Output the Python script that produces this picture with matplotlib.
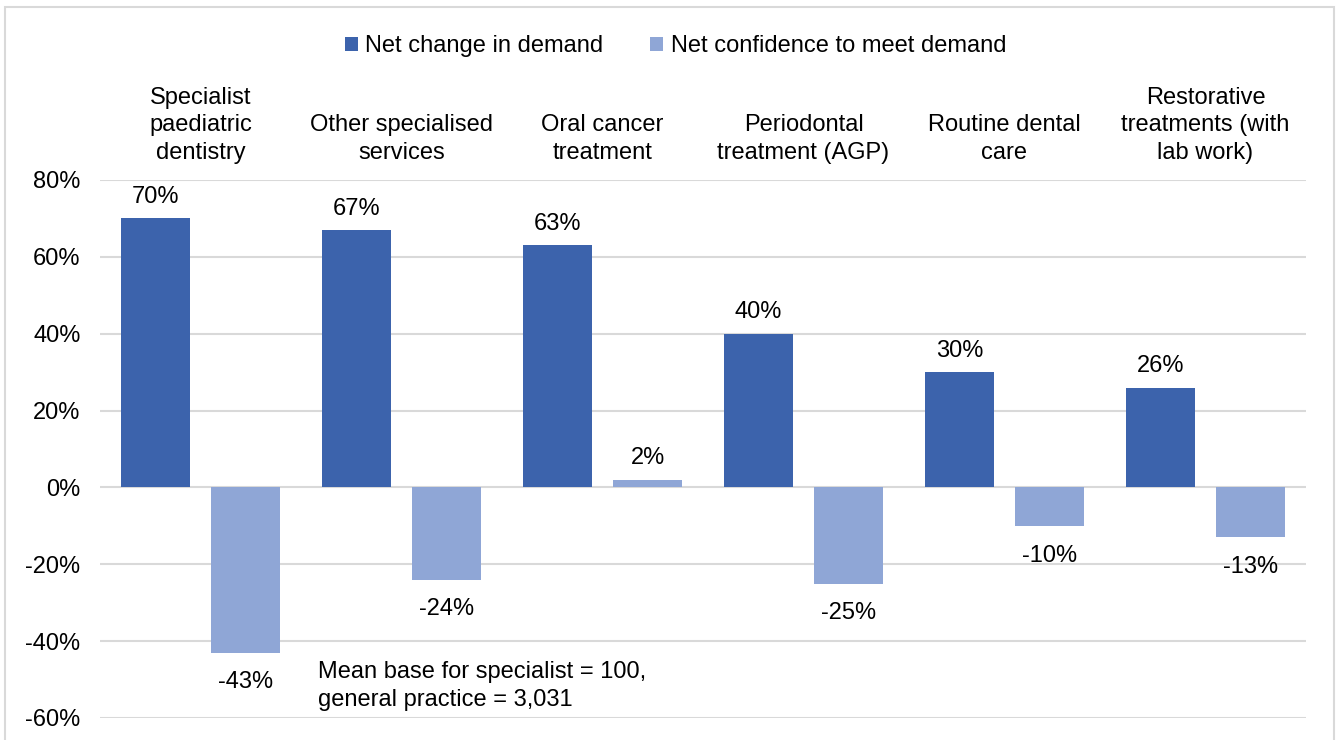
import numpy as np
import matplotlib.pyplot as plt
from matplotlib.patches import Rectangle

# chart data
categories = ['Specialist\npaediatric\ndentistry', 'Other specialised\nservices',
              'Oral cancer\ntreatment', 'Periodontal\ntreatment (AGP)',
              'Routine dental\ncare', 'Restorative\ntreatments (with\nlab work)']
demand = [70, 67, 63, 40, 30, 26]
confidence = [-43, -24, 2, -25, -10, -13]
series_names = ['Net change in demand', 'Net confidence to meet demand']
yticks = [-60, -40, -20, 0, 20, 40, 60, 80]
note = 'Mean base for specialist = 100,\ngeneral practice = 3,031'

dark = '#3C63AC'
light = '#8FA6D6'
grid_col = '#D9D9D9'

plt.rcParams['font.family'] = ['Liberation Sans', 'DejaVu Sans']
fs = 17

fig = plt.figure(figsize=(13.39, 7.40), dpi=100)
ax = fig.add_axes([100 / 1339, 22 / 740, 1206 / 1339, 538 / 740])

# outer border like the excel chart area
fig.patches.append(Rectangle((5 / 1339, -0.05), 1329 / 1339, 0.05 + 733 / 740,
                             transform=fig.transFigure, fill=False,
                             edgecolor=grid_col, linewidth=1.5))

x = np.arange(len(categories))
w = 0.343
off = 0.224
b1 = ax.bar(x - off, demand, w, color=dark, label=series_names[0], zorder=3)
b2 = ax.bar(x + off, confidence, w, color=light, label=series_names[1], zorder=3)

ax.set_xlim(-0.5, len(categories) - 0.5)
ax.set_ylim(-60, 80)
ax.set_yticks(yticks)
ax.set_yticklabels([f'{t}%' for t in yticks], fontsize=fs)
ax.tick_params(axis='y', length=0, pad=14)
ax.set_xticks([])
for t in yticks:
    ax.axhline(t, color=grid_col, linewidth=1.5, zorder=1)
for s in ax.spines.values():
    s.set_visible(False)

# bar value labels
for xs, vals in ((x - off, demand), (x + off, confidence)):
    for xi, v in zip(xs, vals):
        if v >= 0:
            ax.annotate(f'{v}%', (xi, v), xytext=(0, 7.5), textcoords='offset points',
                        ha='center', va='bottom', fontsize=fs)
        else:
            ax.annotate(f'{v}%', (xi, v), xytext=(0, -13.5), textcoords='offset points',
                        ha='center', va='top', fontsize=fs)

# category labels above plot area
for i, c in enumerate(categories):
    ax.text(i, 1.03, c, transform=ax.get_xaxis_transform(), ha='center',
            va='bottom', fontsize=fs, linespacing=1.32)

ax.text(318 / 1339, 1 - 686 / 740, note, transform=fig.transFigure, ha='left',
        va='center', fontsize=fs, linespacing=1.32)

fig.legend(loc='center', bbox_to_anchor=(0.5045, 1 - 46 / 740), ncol=2,
           frameon=False, fontsize=fs, handlelength=0.55, handleheight=0.55,
           handletextpad=0.3, columnspacing=2.0)

fig.savefig('out.png', dpi=100)
